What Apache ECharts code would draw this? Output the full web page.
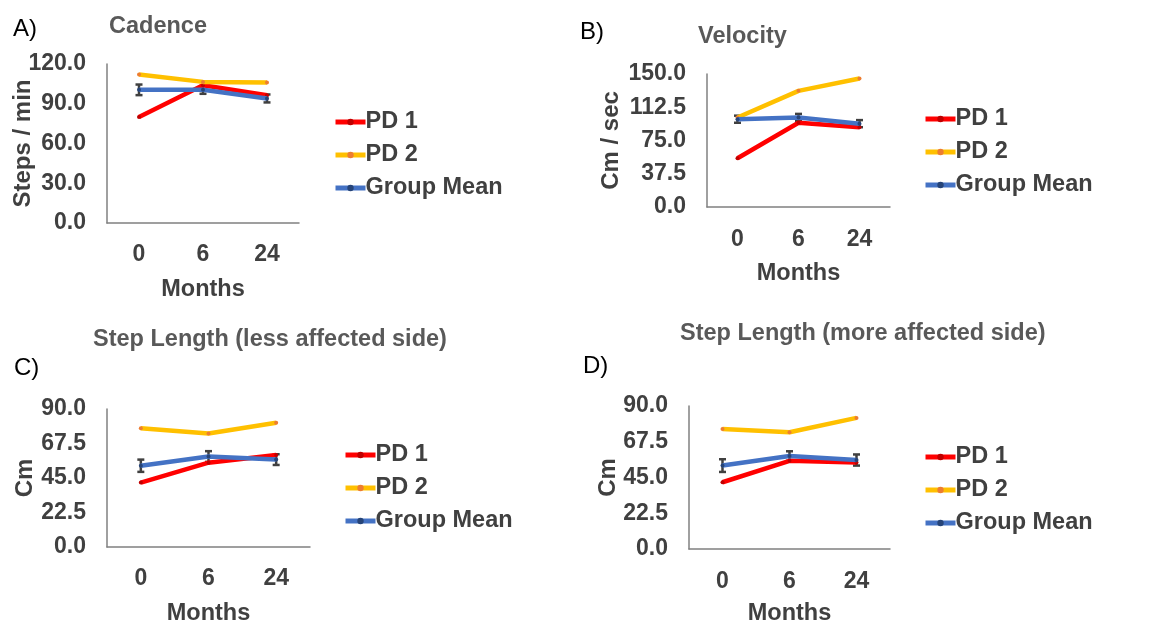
<!DOCTYPE html>
<html>
<head>
<meta charset="utf-8">
<script src="https://cdn.jsdelivr.net/npm/echarts@6/dist/echarts.min.js"></script>
<style>
  html, body { margin: 0; padding: 0; background: #fff; }
  #main { width: 1150px; height: 627px; }
</style>
</head>
<body>
<div id="main"></div>
<script>
var months = ['0', '6', '24'];
var seriesNames = ['PD 1', 'PD 2', 'Group Mean'];

// A) cadence (steps / min)
var cadencePD1 = [80, 104, 96.5];
var cadencePD2 = [112, 106.5, 106];
var cadenceMean = [100.5, 100.5, 94];
var cadenceErr = [4, 3, 3];

// B) velocity (cm / sec)
var velocityPD1 = [55, 95, 90];
var velocityPD2 = [101, 131, 145];
var velocityMean = [99, 101, 94];
var velocityErr = [4, 4, 4];

// C) step length, less affected side (cm)
var lessPD1 = [42, 55, 60];
var lessPD2 = [77.5, 74, 81];
var lessMean = [53, 59, 57];
var lessErr = [4, 3.5, 3.5];

// D) step length, more affected side (cm)
var morePD1 = [42, 55.5, 54.5];
var morePD2 = [75.5, 73.5, 82.5];
var moreMean = [52.5, 58.5, 56];
var moreErr = [4, 3, 3.5];

var lineColors = ['#ff0000', '#ffc000', '#4472c4'];
var markColors = ['#c00000', '#ed7d31', '#264478'];
var font = '"Liberation Sans", Arial, sans-serif';

var panels = [
  { grid: { left: 107, top: 64, width: 192, height: 159 }, max: 120, step: 30, yName: 'Steps / min', yGap: 72, xGap: 55, xMargin: 20,
    lines: [cadencePD1, cadencePD2, cadenceMean], err: cadenceErr, legend: { left: 333, top: 110 } },
  { grid: { left: 707, top: 74, width: 183, height: 133 }, max: 150, step: 37.5, yName: 'Cm / sec', yGap: 84, xGap: 55, xMargin: 21,
    lines: [velocityPD1, velocityPD2, velocityMean], err: velocityErr, legend: { left: 923, top: 107 } },
  { grid: { left: 107, top: 409, width: 203, height: 138 }, max: 90, step: 22.5, yName: 'Cm', yGap: 70, xGap: 55, xMargin: 20,
    lines: [lessPD1, lessPD2, lessMean], err: lessErr, legend: { left: 343, top: 443 } },
  { grid: { left: 689, top: 406, width: 201, height: 146 }, max: 90, step: 22.5, yName: 'Cm', yGap: 69, xGap: 53, xMargin: 21,
    lines: [morePD1, morePD2, moreMean], err: moreErr, legend: { left: 923, top: 445 } }
];

var chart = echarts.init(document.getElementById('main'));

var labelStyle = { fontFamily: font, fontWeight: 'normal', fontSize: 24, color: '#000' };
var titleStyle = { fontFamily: font, fontWeight: 'bold', fontSize: 23.5, color: '#595959' };

var option = {
  backgroundColor: '#fff',
  animation: false,
  title: [
    { text: 'A)', left: 13, top: 17, padding: 0, textStyle: labelStyle },
    { text: 'B)', left: 580, top: 20, padding: 0, textStyle: labelStyle },
    { text: 'C)', left: 14, top: 356, padding: 0, textStyle: labelStyle },
    { text: 'D)', left: 583, top: 354, padding: 0, textStyle: labelStyle },
    { text: 'Cadence', left: 109, top: 15, padding: 0, textStyle: titleStyle },
    { text: 'Velocity', left: 698, top: 25, padding: 0, textStyle: titleStyle },
    { text: 'Step Length (less affected side)', left: 93, top: 328, padding: 0, textStyle: titleStyle },
    { text: 'Step Length (more affected side)', left: 680, top: 322, padding: 0, textStyle: titleStyle }
  ],
  grid: [], xAxis: [], yAxis: [], legend: [], series: []
};

function errorBar(params, api) {
  var top = api.coord([api.value(0), api.value(2)]);
  var bot = api.coord([api.value(0), api.value(1)]);
  var style = { stroke: '#404040', lineWidth: 2.5 };
  return {
    type: 'group',
    children: [
      { type: 'line', shape: { x1: top[0], y1: top[1], x2: bot[0], y2: bot[1] }, style: style },
      { type: 'line', shape: { x1: top[0] - 3.5, y1: top[1], x2: top[0] + 3.5, y2: top[1] }, style: style },
      { type: 'line', shape: { x1: bot[0] - 3.5, y1: bot[1], x2: bot[0] + 3.5, y2: bot[1] }, style: style }
    ]
  };
}

panels.forEach(function (p, i) {
  option.grid.push(p.grid);
  option.xAxis.push({
    type: 'category', gridIndex: i, data: months, boundaryGap: true,
    name: 'Months', nameLocation: 'middle', nameGap: p.xGap,
    nameTextStyle: { fontFamily: font, fontWeight: 'bold', fontSize: 23.5, color: '#404040' },
    axisLine: { lineStyle: { color: '#808080', width: 1.5 } },
    axisTick: { show: false },
    axisLabel: { margin: p.xMargin, fontFamily: font, fontWeight: 'bold', fontSize: 23, color: '#404040' }
  });
  option.yAxis.push({
    type: 'value', gridIndex: i, min: 0, max: p.max, interval: p.step,
    name: p.yName, nameLocation: 'middle', nameGap: p.yGap, nameMoveOverlap: false,
    nameTextStyle: { fontFamily: font, fontWeight: 'bold', fontSize: 24, color: '#404040' },
    axisLine: { show: true, lineStyle: { color: '#808080', width: 1.5 } },
    axisTick: { show: false },
    splitLine: { show: false },
    axisLabel: { margin: 21, fontFamily: font, fontWeight: 'bold', fontSize: 23, color: '#404040',
      formatter: function (v) { return v.toFixed(1); } }
  });
  option.legend.push({
    left: p.legend.left, top: p.legend.top, orient: 'vertical', padding: 0,
    itemWidth: 30, itemHeight: 8, itemGap: 9,
    data: seriesNames,
    lineStyle: { width: 5 },
    textStyle: { fontFamily: font, fontWeight: 'bold', fontSize: 23.5, color: '#404040', padding: [0, 0, 0, -5] }
  });

  var mean = p.lines[2];
  option.series.push({
    type: 'custom', xAxisIndex: i, yAxisIndex: i, z: 1, silent: true,
    renderItem: errorBar,
    encode: { x: 0, y: [1, 2] },
    data: mean.map(function (m, k) { return [k, m - p.err[k], m + p.err[k]]; })
  });

  p.lines.forEach(function (vals, s) {
    option.series.push({
      type: 'line', name: seriesNames[s], xAxisIndex: i, yAxisIndex: i, z: 2 + s,
      data: vals,
      symbol: 'circle', symbolSize: 4, showSymbol: true,
      lineStyle: { color: lineColors[s], width: 4.5 },
      itemStyle: { color: markColors[s] }
    });
  });
});

chart.setOption(option);
</script>
</body>
</html>
